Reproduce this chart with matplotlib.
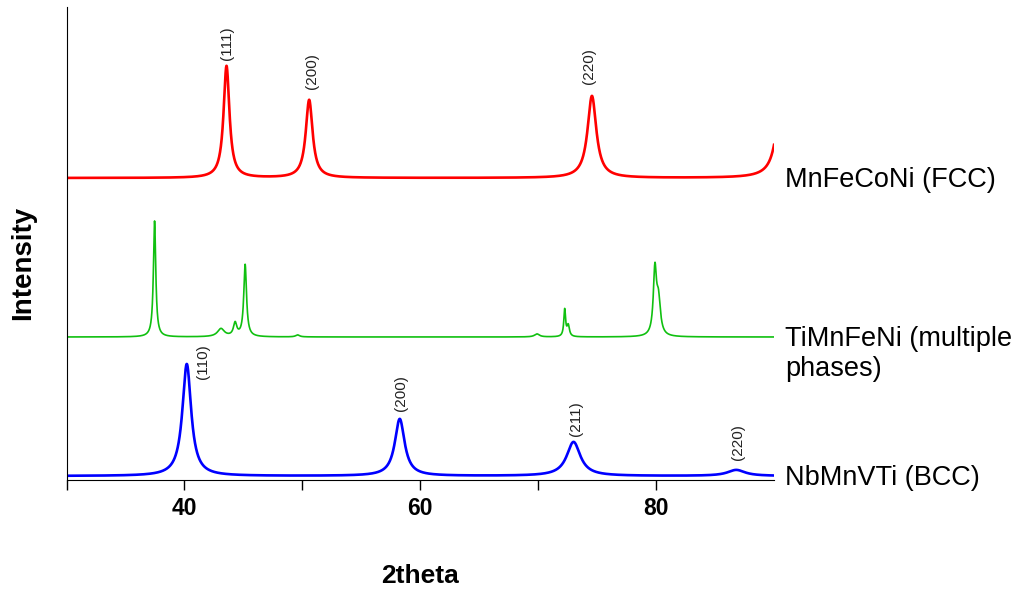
import numpy as np
import matplotlib
matplotlib.use("Agg")
import matplotlib.pyplot as plt

plt.rcParams['font.family'] = ['Liberation Sans', 'DejaVu Sans']

# peak lists: position (2theta), height, half width
fcc_pos = [43.57, 50.58, 74.56, 90.7]
fcc_height = [112, 78, 82, 98]
fcc_hw = [0.30, 0.35, 0.45, 0.50]
fcc_hkl = ['(111)', '(200)', '(220)']

multi_pos = [37.47, 43.1, 44.3, 45.15, 49.6, 69.9, 72.25, 72.55, 79.9, 80.2]
multi_height = [116, 8, 13, 72, 2, 3, 27, 11, 64, 34]
multi_hw = [0.12, 0.35, 0.17, 0.14, 0.2, 0.25, 0.09, 0.12, 0.16, 0.2]

bcc_pos = [40.2, 58.26, 73.0, 86.8]
bcc_height = [112, 57, 34, 6]
bcc_hw = [0.45, 0.5, 0.7, 0.9]
bcc_hkl = ['(110)', '(200)', '(211)', '(220)']

offsets = [302, 143, 4]
names = ['MnFeCoNi (FCC)', 'TiMnFeNi (multiple\nphases)', 'NbMnVTi (BCC)']
colors = ['#ff0000', '#10c010', '#0000ff']

tt = np.arange(30, 90.001, 0.01)


def pattern(pos, height, hw):
    y = np.zeros_like(tt)
    for p, h, w in zip(pos, height, hw):
        y += h / (1 + ((tt - p) / w) ** 2)
    return y


fig = plt.figure(figsize=(10.19, 5.9), dpi=100)
ax = fig.add_axes([66.5 / 1019, 110 / 590, 707.5 / 1019, 473 / 590])

sets = [(fcc_pos, fcc_height, fcc_hw), (multi_pos, multi_height, multi_hw),
        (bcc_pos, bcc_height, bcc_hw)]
widths = [1.9, 1.2, 1.9]
for (p, h, w), off, c, lw in zip(sets, offsets, colors, widths):
    ax.plot(tt, off + pattern(p, h, w), color=c, lw=lw)

ax.set_xlim(30, 90)
ax.set_ylim(0, 473)

# hkl labels above the peaks (offsets in points)
fcc_shift = [(0, 4), (2, 8), (-2, 9)]
for lab, p, h, s in zip(fcc_hkl, fcc_pos, fcc_height, fcc_shift):
    ax.annotate(lab, (p, offsets[0] + h), xytext=s, textcoords='offset points',
                rotation=90, ha='center', va='bottom', fontsize=11, color='#222222')
bcc_shift = [(12, -11), (1, 6), (2, 4), (1, 7)]
for lab, p, h, s in zip(bcc_hkl, bcc_pos, bcc_height, bcc_shift):
    ax.annotate(lab, (p, offsets[2] + h), xytext=s, textcoords='offset points',
                rotation=90, ha='center', va='bottom', fontsize=11, color='#222222')

for n, off in zip(names, offsets):
    if '\n' in n:
        ax.text(90.93, off - 17, n, ha='left', va='center', fontsize=19.5,
                linespacing=1.2, clip_on=False)
    else:
        ax.text(90.93, off - 2, n, ha='left', va='center', fontsize=19.5, clip_on=False)

ax.spines['top'].set_visible(False)
ax.spines['right'].set_visible(False)
ax.set_yticks([])
ax.set_xticks([30, 40, 50, 60, 70, 80])
ax.set_xticklabels(['', '40', '', '60', '', '80'], fontsize=16.5, fontweight='bold')
ax.tick_params(axis='x', direction='out', length=7, width=1, pad=5)

fig.text(420 / 1019, 1 - 576 / 590, '2theta', ha='center', va='center',
         fontsize=19, fontweight='bold')
fig.text(23.5 / 1019, 1 - 263 / 590, 'Intensity', ha='center', va='center',
         rotation=90, fontsize=20, fontweight='bold')

fig.savefig('out.png', dpi=100)
